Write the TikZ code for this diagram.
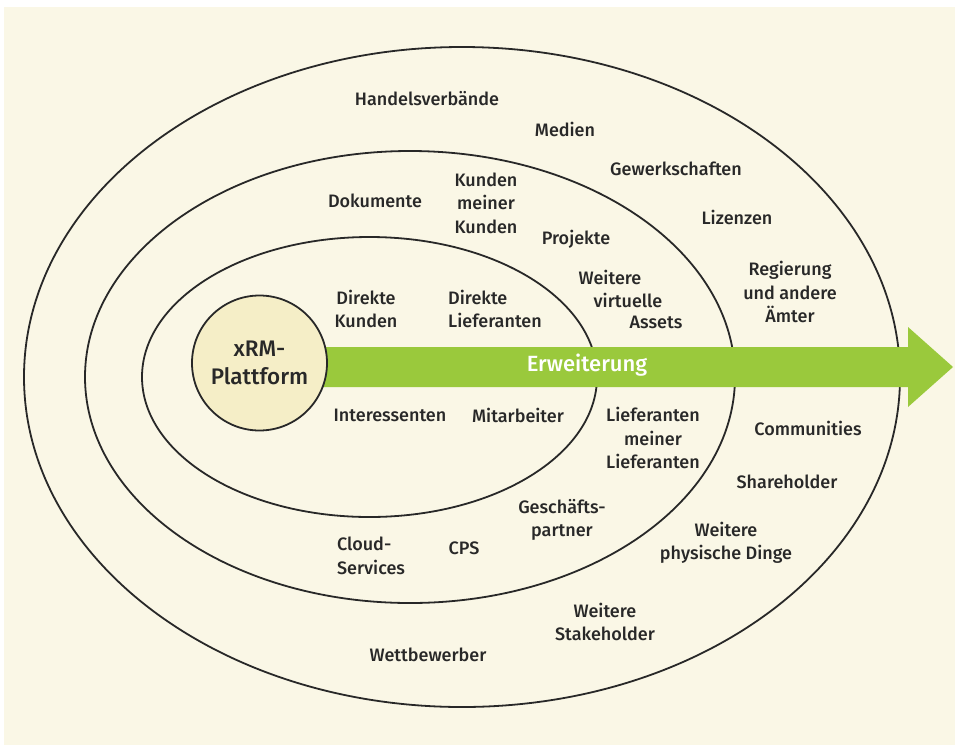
\documentclass[tikz,border=0pt]{standalone}
\usepackage{fontspec}
\setmainfont{Fira Sans}[UprightFont=* Medium, BoldFont=* SemiBold]
\definecolor{paper}{RGB}{250,247,230}
\definecolor{corefill}{RGB}{245,238,199}
\definecolor{ink}{RGB}{40,40,40}
\definecolor{leaf}{RGB}{154,201,60}
\tikzset{
  ring/.style={draw=ink, line width=1.8pt},
  lbl/.style={text=ink, font=\fontsize{18}{23.5}\selectfont, align=center, inner sep=0pt},
  lbll/.style={lbl, align=left},
}
\begin{document}
\begin{tikzpicture}[x=1pt, y=-1pt]
\useasboundingbox (0,0) rectangle (955,745);
\fill[paper] (4,7) rectangle (955,745);

% three rings of stakeholders
\draw[ring] (462,377) ellipse [x radius=438, y radius=330];
\draw[ring] (410,377) ellipse [x radius=325, y radius=226];
\draw[ring] (369.5,377) ellipse [x radius=227.5, y radius=140];

% extension arrow
\coordinate (a0) at (300,347);
\coordinate (a1) at (908,347);
\coordinate (a2) at (908,327);
\coordinate (tip) at (953,367);
\coordinate (a3) at (908,407);
\coordinate (a4) at (908,387);
\coordinate (a5) at (300,387);
\fill[leaf] (a0) -- (a1) -- (a2) -- (tip) -- (a3) -- (a4) -- (a5) -- cycle;
\node[lbl, text=white, font=\fontsize{22}{26}\selectfont] (erw) at (587,365) {Erweiterung};

% platform core
\node[circle, draw=ink, line width=1.8pt, fill=corefill, minimum size=135pt, inner sep=0pt,
      font=\fontsize{22.5}{28}\selectfont, text=ink, align=center] (core) at (259.5,363) {xRM-\\Plattform};

% inner ring
\node[lbl] (dk) at (366,309) {Direkte\\Kunden};
\node[lbll] (dl) at (495,309) {Direkte\\Lieferanten};
\node[lbl] (int) at (390,415) {Interessenten};
\node[lbl] (mit) at (518,415) {Mitarbeiter};

% middle ring
\node[lbl] (dok) at (375,201) {Dokumente};
\node[lbl] (kmk) at (486,203) {Kunden\\meiner\\Kunden};
\node[lbl] (proj) at (576,239) {Projekte};
\node[lbl] (wv1) at (610,277) {Weitere};
\node[lbl] (wv2) at (628,300) {virtuelle};
\node[lbl] (wv3) at (656,322) {Assets};
\node[lbl] (lml) at (653,438) {Lieferanten\\meiner\\Lieferanten};
\node[lbl] (gp) at (562,520) {Geschäfts-\\partner};
\node[lbll] (cs) at (371,556) {Cloud-\\Services};
\node[lbl] (cps) at (464,548) {CPS};

% outer ring
\node[lbl] (hv) at (427,99) {Handelsverbände};
\node[lbl] (med) at (565,129) {Medien};
\node[lbl] (gew) at (676,169) {Gewerkschaften};
\node[lbl] (liz) at (737,217) {Lizenzen};
\node[lbl] (reg) at (790,292) {Regierung\\und andere\\Ämter};
\node[lbl] (com) at (808,428) {Communities};
\node[lbl] (sh) at (787,482) {Shareholder};
\node[lbl] (wpd) at (726,543) {Weitere\\physische Dinge};
\node[lbl] (wst) at (605,622) {Weitere\\Stakeholder};
\node[lbl] (wb) at (428,655) {Wettbewerber};
\end{tikzpicture}
\end{document}
